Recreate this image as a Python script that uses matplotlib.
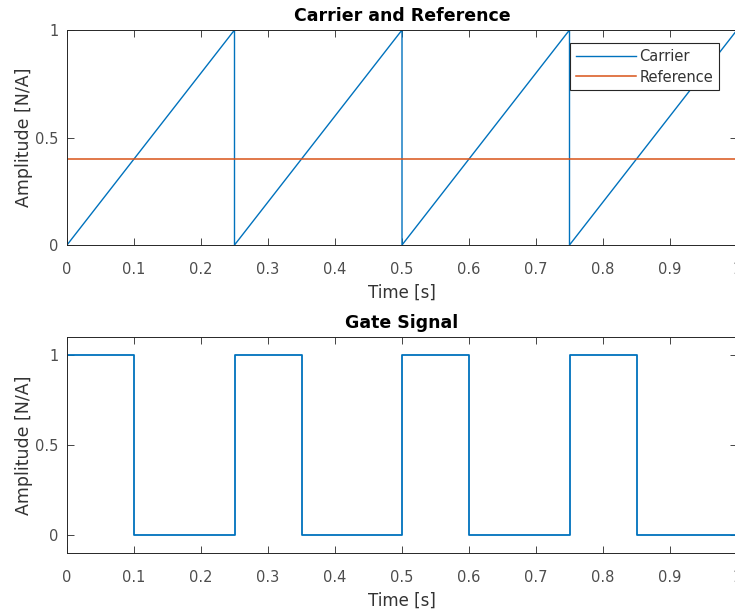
import matplotlib
matplotlib.use("Agg")
import matplotlib.pyplot as plt

# sawtooth carrier corners (period 0.25 s)
carrier_t = [0, 0.25, 0.25, 0.5, 0.5, 0.75, 0.75, 1.0]
carrier_v = [0, 1, 0, 1, 0, 1, 0, 1]

# constant reference level
ref_t = [0, 1.0]
ref_v = [0.4, 0.4]

# gate: high while carrier < reference
gate_t = [0, 0.1, 0.1, 0.25, 0.25, 0.35, 0.35, 0.5, 0.5, 0.6, 0.6, 0.75, 0.75, 0.85, 0.85, 1.0]
gate_v = [1, 1, 0, 0, 1, 1, 0, 0, 1, 1, 0, 0, 1, 1, 0, 0]

x_ticks = [0, 0.1, 0.2, 0.3, 0.4, 0.5, 0.6, 0.7, 0.8, 0.9, 1.0]
x_labels = ["0", "0.1", "0.2", "0.3", "0.4", "0.5", "0.6", "0.7", "0.8", "0.9", "1"]
y_ticks = [0, 0.5, 1]
y_labels = ["0", "0.5", "1"]

blue = "#0072BD"
orange = "#D95319"
axc = "#262626"

plt.rcParams["font.family"] = ["DejaVu Sans"]

fig = plt.figure(figsize=(7.35, 6.13), dpi=100)
ax1 = fig.add_axes([67 / 735, 368 / 613, 670 / 735, 215 / 613])
ax2 = fig.add_axes([67 / 735, 60 / 613, 670 / 735, 216 / 613])


def style(ax):
    ax.set_xlim(0, 1)
    ax.set_xticks(x_ticks)
    ax.set_xticklabels(x_labels)
    ax.set_yticks(y_ticks)
    ax.set_yticklabels(y_labels)
    ax.tick_params(direction="in", length=5, width=0.6, colors=axc,
                   labelcolor="#4d4d4d", labelsize=10.5, top=True, right=True)
    ax.tick_params(axis="x", pad=12)
    ax.tick_params(axis="y", pad=6)
    for s in ax.spines.values():
        s.set_color(axc)
        s.set_linewidth(0.7)
    ax.set_xlabel("Time [s]", fontsize=12, color="#333333", labelpad=5)
    ax.set_ylabel("Amplitude [N/A]", fontsize=12.5, color="#333333", labelpad=2)


ax1.plot(carrier_t, carrier_v, color=blue, lw=1.0, label="Carrier")
ax1.plot(ref_t, ref_v, color=orange, lw=1.1, label="Reference")
ax1.set_ylim(0, 1)
style(ax1)
ax1.set_title("Carrier and Reference", fontsize=12.5, fontweight="bold", pad=6.5)
leg = ax1.legend(loc="upper right", bbox_to_anchor=(0.973, 0.94), fontsize=10.5,
                 fancybox=False, framealpha=1, edgecolor=axc, borderpad=0.4,
                 handlelength=4.1, handletextpad=0.25, labelspacing=0.4, borderaxespad=0)
leg.get_frame().set_linewidth(0.8)
for t in leg.get_texts():
    t.set_color("#333333")

ax2.plot(gate_t, gate_v, color=blue, lw=1.3)
ax2.set_ylim(-0.1, 1.1)
style(ax2)
ax2.set_title("Gate Signal", fontsize=12.5, fontweight="bold", pad=6.5)

fig.savefig("out.png", dpi=100)
